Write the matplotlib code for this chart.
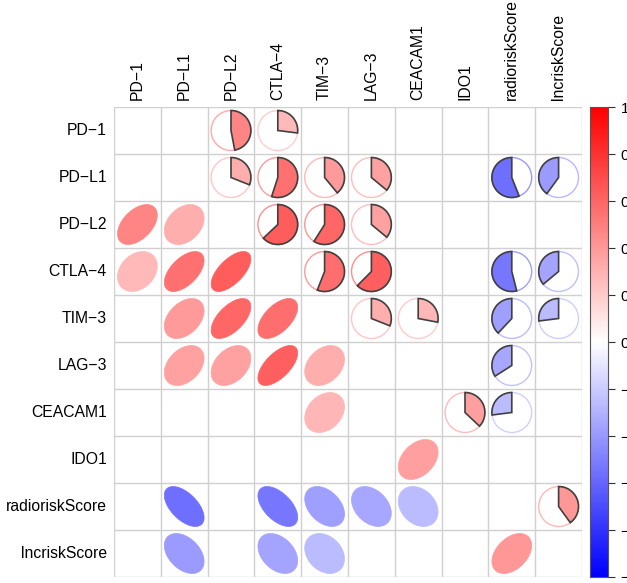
import numpy as np
import matplotlib
matplotlib.use("Agg")
import matplotlib.pyplot as plt
from matplotlib.colors import LinearSegmentedColormap
from matplotlib.patches import Polygon, Circle

plt.rcParams['font.family'] = ['Liberation Sans', 'DejaVu Sans']

# variables (rows / columns of the correlation matrix)
names = ['PD-1', 'PD-L1', 'PD-L2', 'CTLA-4', 'TIM-3', 'LAG-3',
         'CEACAM1', 'IDO1', 'radioriskScore', 'lncriskScore']

# significant correlations only (row index, column index, r); lower triangle
pair_row = [2, 2, 3, 3, 3, 4, 4, 4, 5, 5, 5, 5, 6, 7, 8, 8, 8, 8, 8, 9, 9, 9, 9]
pair_col = [0, 1, 0, 1, 2, 1, 2, 3, 1, 2, 3, 4, 4, 6, 1, 3, 4, 5, 6, 1, 3, 4, 8]
pair_r = [0.47, 0.31, 0.27, 0.55, 0.63, 0.39, 0.59, 0.56, 0.36, 0.36, 0.625, 0.31,
          0.28, 0.37, -0.56, -0.54, -0.38, -0.34, -0.27, -0.40, -0.36, -0.27, 0.40]

cbar_ticks = [1, 0.8, 0.6, 0.4, 0.2, 0, -0.2, -0.4, -0.6, -0.8, -1]

cmap = LinearSegmentedColormap.from_list('bwr2', ['#0000FF', '#FFFFFF', '#FF0000'], N=200)

def col(r):
    return cmap((r + 1) / 2)

W, H = 627, 583
fig = plt.figure(figsize=(W / 100, H / 100), dpi=100)

x0, x1, y0, y1 = 114, 582, 107, 577
ax = fig.add_axes([x0 / W, 1 - y1 / H, (x1 - x0) / W, (y1 - y0) / H])
n = len(names)
ax.set_xlim(0.5, n + 0.5)
ax.set_ylim(n + 0.5, 0.5)
ax.axis('off')

# grid
for k in range(n + 1):
    ax.plot([k + 0.5, k + 0.5], [0.5, n + 0.5], color='#d0d0d0', lw=1, zorder=1)
    ax.plot([0.5, n + 0.5], [k + 0.5, k + 0.5], color='#d0d0d0', lw=1, zorder=1)

# labels
for i, nm in enumerate(names):
    lab = nm.replace('-', '\u2212')
    ax.text(0.5 - 0.15, i + 1, lab, ha='right', va='center', fontsize=11.3)
    ax.text(i + 1, 0.5 - 0.15, lab, ha='center', va='bottom', rotation=90, fontsize=11.3)

t = np.linspace(0, 2 * np.pi, 100)
for i, j, r in zip(pair_row, pair_col, pair_r):
    c = col(r)
    # lower triangle: ellipse (row i, col j)
    d = np.arccos(r)
    ex = (j + 1) + 0.85 * np.cos(t + d / 2) / 2
    ey = (i + 1) - 0.85 * np.cos(t - d / 2) / 2
    ax.add_patch(Polygon(np.column_stack([ex, ey]), closed=True, facecolor=c,
                         edgecolor=c, lw=0.5, zorder=3))
    # upper triangle: pie (row j, col i)
    cx, cy = i + 1, j + 1
    R = 0.425
    ax.add_patch(Circle((cx, cy), R, facecolor='none', edgecolor=c, lw=1.0,
                        alpha=0.7, zorder=3))
    theta = 2 * np.pi * r
    k = np.linspace(np.pi / 2, np.pi / 2 - theta, 80)
    px = np.concatenate([[cx], cx + R * np.cos(k), [cx]])
    py = np.concatenate([[cy], cy - R * np.sin(k), [cy]])
    ax.add_patch(Polygon(np.column_stack([px, py]), closed=True, facecolor=c,
                         edgecolor='#404040', lw=1.2, zorder=4))

# colour legend
cax = fig.add_axes([590 / W, 1 - y1 / H, 18 / W, (y1 - y0) / H])
grad = np.linspace(1, -1, 200).reshape(-1, 1)
cax.imshow(grad, cmap=cmap, vmin=-1, vmax=1, aspect='auto', extent=[0, 1, -1, 1])
cax.set_xticks([])
cax.yaxis.tick_right()
cax.set_yticks(cbar_ticks)
cax.set_yticklabels([('%g' % v).replace('-', '\u2212') for v in cbar_ticks], fontsize=11)
cax.tick_params(axis='y', length=5, width=0.8, color='#333333', pad=4)
for s in cax.spines.values():
    s.set_color('#555555')
    s.set_linewidth(0.8)

fig.savefig('out.png', dpi=100)
